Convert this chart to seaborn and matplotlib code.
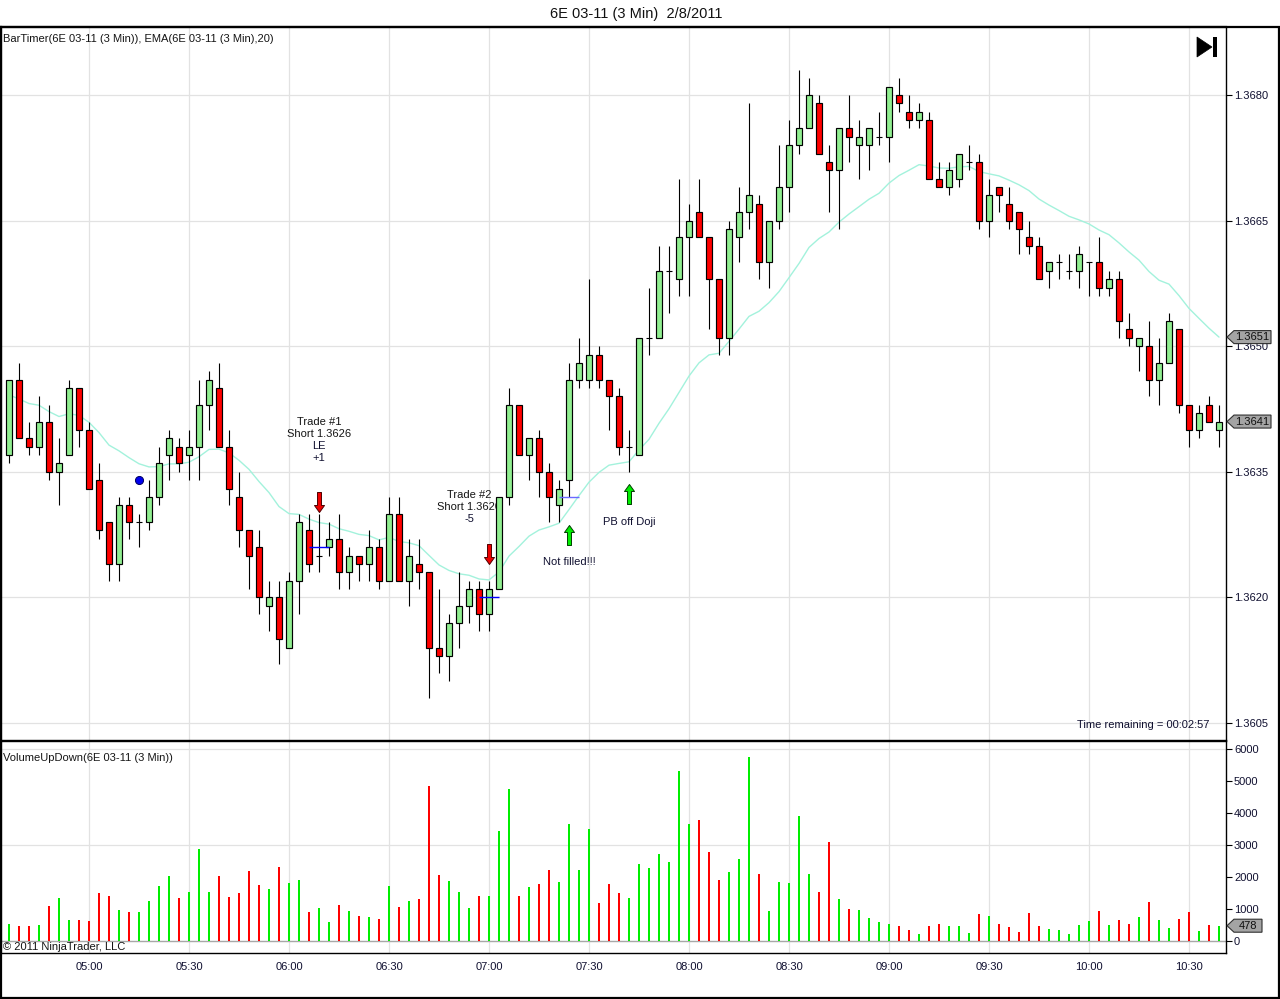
import numpy as np
import pandas as pd
import matplotlib
matplotlib.use("Agg")
import matplotlib.pyplot as plt
import seaborn as sns
from matplotlib.patches import Polygon, Rectangle
from matplotlib.path import Path
from matplotlib.transforms import IdentityTransform

# ---------------- data ----------------
start_time = "2011-02-08 04:36"
bar_minutes = 3

opens = [1.3637, 1.3646, 1.3639, 1.3638, 1.3641, 1.3635, 1.3637, 1.3645, 1.3640, 1.3634,
         1.3629, 1.3624, 1.3631, 1.3629, 1.3629, 1.3632, 1.3637, 1.3638, 1.3637, 1.3638,
         1.3643, 1.3645, 1.3638, 1.3632, 1.3628, 1.3626, 1.3619, 1.3620, 1.3614, 1.3622,
         1.3628, 1.3625, 1.3626, 1.3627, 1.3623, 1.3625, 1.3624, 1.3626, 1.3622, 1.3630,
         1.3622, 1.3624, 1.3623, 1.3614, 1.3613, 1.3617, 1.3619, 1.3621, 1.3618, 1.3621,
         1.3632, 1.3643, 1.3637, 1.3639, 1.3635, 1.3631, 1.3634, 1.3646, 1.3646, 1.3649,
         1.3646, 1.3644, 1.3638, 1.3637, 1.3651, 1.3651, 1.3659, 1.3658, 1.3663, 1.3666,
         1.3663, 1.3658, 1.3651, 1.3663, 1.3666, 1.3667, 1.3660, 1.3665, 1.3669, 1.3674,
         1.3676, 1.3679, 1.3672, 1.3671, 1.3676, 1.3674, 1.3674, 1.3675, 1.3675, 1.3680,
         1.3678, 1.3677, 1.3677, 1.3670, 1.3669, 1.3670, 1.3672, 1.3672, 1.3665, 1.3669,
         1.3667, 1.3666, 1.3663, 1.3662, 1.3659, 1.3660, 1.3659, 1.3659, 1.3660, 1.3660,
         1.3657, 1.3658, 1.3652, 1.3650, 1.3650, 1.3646, 1.3648, 1.3652, 1.3643, 1.3640,
         1.3643, 1.3640]

highs = [1.3646, 1.3648, 1.3641, 1.3644, 1.3643, 1.3639, 1.3646, 1.3645, 1.3641, 1.3636,
         1.3629, 1.3632, 1.3632, 1.3630, 1.3634, 1.3638, 1.3640, 1.3639, 1.3640, 1.3646,
         1.3647, 1.3648, 1.3640, 1.3635, 1.3628, 1.3628, 1.3622, 1.3622, 1.3623, 1.3630,
         1.3630, 1.3630, 1.3629, 1.3630, 1.3626, 1.3625, 1.3628, 1.3627, 1.3632, 1.3632,
         1.3627, 1.3627, 1.3623, 1.3621, 1.3618, 1.3623, 1.3622, 1.3622, 1.3622, 1.3632,
         1.3645, 1.3643, 1.3639, 1.3640, 1.3636, 1.3634, 1.3648, 1.3651, 1.3658, 1.3650,
         1.3646, 1.3645, 1.3640, 1.3651, 1.3657, 1.3662, 1.3662, 1.3670, 1.3667, 1.3670,
         1.3663, 1.3658, 1.3665, 1.3669, 1.3679, 1.3668, 1.3665, 1.3674, 1.3677, 1.3683,
         1.3682, 1.3680, 1.3674, 1.3676, 1.3680, 1.3677, 1.3676, 1.3678, 1.3681, 1.3682,
         1.3680, 1.3679, 1.3678, 1.3672, 1.3672, 1.3673, 1.3674, 1.3673, 1.3670, 1.3669,
         1.3669, 1.3666, 1.3665, 1.3663, 1.3660, 1.3661, 1.3661, 1.3662, 1.3660, 1.3663,
         1.3659, 1.3659, 1.3654, 1.3651, 1.3653, 1.3651, 1.3654, 1.3652, 1.3643, 1.3643,
         1.3644, 1.3643]

lows = [1.3636, 1.3639, 1.3637, 1.3637, 1.3634, 1.3631, 1.3637, 1.3638, 1.3633, 1.3627,
        1.3622, 1.3622, 1.3627, 1.3626, 1.3628, 1.3631, 1.3634, 1.3635, 1.3634, 1.3634,
        1.3640, 1.3638, 1.3631, 1.3626, 1.3621, 1.3618, 1.3616, 1.3612, 1.3614, 1.3618,
        1.3623, 1.3623, 1.3625, 1.3621, 1.3621, 1.3622, 1.3622, 1.3621, 1.3622, 1.3622,
        1.3619, 1.3621, 1.3608, 1.3611, 1.3610, 1.3614, 1.3617, 1.3616, 1.3616, 1.3621,
        1.3631, 1.3637, 1.3634, 1.3632, 1.3629, 1.3629, 1.3632, 1.3645, 1.3645, 1.3645,
        1.3640, 1.3637, 1.3635, 1.3637, 1.3649, 1.3651, 1.3654, 1.3656, 1.3656, 1.3663,
        1.3652, 1.3649, 1.3649, 1.3660, 1.3664, 1.3658, 1.3657, 1.3664, 1.3666, 1.3673,
        1.3676, 1.3673, 1.3666, 1.3664, 1.3672, 1.3670, 1.3671, 1.3674, 1.3672, 1.3678,
        1.3676, 1.3676, 1.3670, 1.3669, 1.3668, 1.3669, 1.3671, 1.3664, 1.3663, 1.3666,
        1.3664, 1.3661, 1.3661, 1.3658, 1.3657, 1.3658, 1.3658, 1.3657, 1.3656, 1.3656,
        1.3656, 1.3651, 1.3650, 1.3647, 1.3644, 1.3643, 1.3648, 1.3642, 1.3638, 1.3639,
        1.3641, 1.3638]

closes = [1.3646, 1.3639, 1.3638, 1.3641, 1.3635, 1.3636, 1.3645, 1.3640, 1.3633, 1.3628,
          1.3624, 1.3631, 1.3629, 1.3629, 1.3632, 1.3636, 1.3639, 1.3636, 1.3638, 1.3643,
          1.3646, 1.3638, 1.3633, 1.3628, 1.3625, 1.3620, 1.3620, 1.3615, 1.3622, 1.3629,
          1.3624, 1.3625, 1.3627, 1.3623, 1.3625, 1.3624, 1.3626, 1.3622, 1.3630, 1.3622,
          1.3625, 1.3623, 1.3614, 1.3613, 1.3617, 1.3619, 1.3621, 1.3618, 1.3621, 1.3632,
          1.3643, 1.3637, 1.3639, 1.3635, 1.3632, 1.3633, 1.3646, 1.3648, 1.3649, 1.3646,
          1.3644, 1.3638, 1.3638, 1.3651, 1.3651, 1.3659, 1.3659, 1.3663, 1.3665, 1.3663,
          1.3658, 1.3651, 1.3664, 1.3666, 1.3668, 1.3660, 1.3665, 1.3669, 1.3674, 1.3676,
          1.3680, 1.3673, 1.3671, 1.3676, 1.3675, 1.3675, 1.3676, 1.3675, 1.3681, 1.3679,
          1.3677, 1.3678, 1.3670, 1.3669, 1.3671, 1.3673, 1.3672, 1.3665, 1.3668, 1.3668,
          1.3665, 1.3664, 1.3662, 1.3658, 1.3660, 1.3660, 1.3659, 1.3661, 1.3660, 1.3657,
          1.3658, 1.3653, 1.3651, 1.3651, 1.3646, 1.3648, 1.3653, 1.3643, 1.3640, 1.3642,
          1.3641, 1.3641]

volumes = [530, 470, 470, 500, 1090, 1340, 660, 660, 630, 1500,
           1410, 970, 910, 910, 1250, 1720, 2030, 1340, 1530, 2880,
           1530, 2030, 1380, 1500, 2190, 1750, 1630, 2310, 1810, 1910,
           910, 1030, 590, 1130, 940, 780, 750, 690, 1720, 1060,
           1250, 1310, 4840, 2060, 1880, 1530, 1030, 1410, 1410, 3440,
           4750, 1410, 1690, 1780, 2220, 1840, 3660, 2220, 3500, 1190,
           1780, 1500, 1340, 2410, 2280, 2720, 2470, 5310, 3660, 3780,
           2780, 1910, 2160, 2560, 5750, 2090, 940, 1840, 1810, 3910,
           2090, 1530, 3090, 1310, 1000, 970, 720, 590, 530, 470,
           340, 220, 470, 530, 470, 470, 250, 840, 780, 530,
           440, 280, 880, 470, 380, 340, 220, 500, 630, 940,
           500, 660, 530, 750, 1220, 660, 410, 690, 910, 310,
           500, 478]

ema_period = 20
ema_seed = 1.3644

price_ticks = [1.3605, 1.3620, 1.3635, 1.3650, 1.3665, 1.3680]
volume_ticks = [0, 1000, 2000, 3000, 4000, 5000, 6000]
volume_grid = [3000, 6000]

# annotations
note_bars = [31, 46, 56, 62]
note_prices = [1.3641, 1.36322, 1.36242, 1.3629]
note_lines = [["Trade #1", "Short 1.3626", "LE", "+1"],
              ["Trade #2", "Short 1.3620", "-5"],
              ["Not filled!!!"],
              ["PB off Doji"]]
arrow_bars = [31, 48, 56, 62]
arrow_prices = [1.36314, 1.36252, 1.36274, 1.36323]
arrow_dirs = ["down", "down", "up", "up"]
entry_start = [30, 47, 55]
entry_end = [32, 49, 57]
entry_price = [1.3626, 1.3620, 1.3632]
entry_colors = ["#0000ff", "#0000ff", "#6a6aff"]
dot_bar = [13]
dot_price = [1.3634]

title = "6E 03-11 (3 Min)  2/8/2011"
price_label = "BarTimer(6E 03-11 (3 Min)), EMA(6E 03-11 (3 Min),20)"
volume_label = "VolumeUpDown(6E 03-11 (3 Min))"
timer_text = "Time remaining = 00:02:57"
copyright_text = "\u00a9 2011 NinjaTrader, LLC"

# ---------------- style ----------------
W, H = 1280, 999
sns.set_style("white")
plt.rcParams["font.family"] = ["Liberation Sans", "DejaVu Sans"]
plt.rcParams["axes.edgecolor"] = "black"

UP = "#90ee90"
DOWN = "#ff0000"
VUP = "#00ee00"
VDOWN = "#ff0000"
GRID = "#e2e2e2"
TXT = "#101030"


def fx(x):
    return x / W


def fy(y):
    return 1 - y / H


o = np.array(opens)
h = np.array(highs)
l = np.array(lows)
c = np.array(closes)
v = np.array(volumes)
n = len(c)
idx = np.arange(n)
up = c >= o

times = pd.date_range(start_time, periods=n, freq=f"{bar_minutes}min")
tick_idx = [i for i, t in enumerate(times) if t.minute % 30 == 0]
tick_lab = [times[i].strftime("%H:%M") for i in tick_idx]

ema = pd.Series([ema_seed] + list(closes)).ewm(span=ema_period, adjust=False).mean().values[1:]

fig = plt.figure(figsize=(W / 100, H / 100), dpi=100)
ax = fig.add_axes([fx(1), fy(740), (1226 - 1) / W, (740 - 27) / H])
axv = fig.add_axes([fx(1), fy(953), (1226 - 1) / W, (953 - 741) / H])

xlim = (-0.8, n - 0.3)
for a in (ax, axv):
    a.set_xlim(*xlim)
    a.set_facecolor("white")
    for s in a.spines.values():
        s.set_color("black")
        s.set_linewidth(1.0)
        s.set_visible(True)

# ---- price panel ----
ax.set_ylim(1.360297, 1.368812)
ax.set_xticks(tick_idx)
ax.set_yticks(price_ticks)
ax.set_yticklabels([f"{p:.4f}" for p in price_ticks])
ax.yaxis.tick_right()
ax.tick_params(axis="x", length=0, labelbottom=False)
ax.tick_params(axis="y", direction="out", length=4.3, width=0.8, pad=1.5,
               labelsize=8, labelcolor=TXT, color="black")
ax.grid(True, color=GRID, lw=0.9)
ax.set_axisbelow(True)
ax.spines["top"].set_linewidth(1.6)
ax.spines["left"].set_linewidth(1.6)

# annotation texts (behind the candles)
for b, p, lines in zip(note_bars, note_prices, note_lines):
    for k, s in enumerate(lines):
        col = "#151515" if k < 2 and len(lines) > 1 else TXT
        ax.annotate(s, xy=(b, p), xytext=(0, -12 * k), textcoords="offset pixels",
                    ha="center", va="center", fontsize=8, color=col, zorder=1)

sns.lineplot(x=idx, y=ema, ax=ax, color="#a3f2dc", lw=1.0, zorder=1.5)

ax.vlines(idx, l, h, color="black", lw=0.8, zorder=2)
body_lo = np.minimum(o, c)
body_h = np.abs(c - o)
nz = body_h > 1e-9
ax.bar(idx[nz], body_h[nz], bottom=body_lo[nz], width=0.56,
       color=np.where(up[nz], UP, DOWN), edgecolor="black", linewidth=0.85, zorder=3)
dj = ~nz
ax.hlines(c[dj], idx[dj] - 0.3, idx[dj] + 0.3, color="black", lw=0.8, zorder=3)

for s0, s1, p, col in zip(entry_start, entry_end, entry_price, entry_colors):
    ax.hlines(p, s0, s1, color=col, lw=1.0, zorder=4)

ax.scatter(dot_bar, dot_price, s=34, c="#0000ee", edgecolors="#000060", linewidths=0.7, zorder=5)

down_path = Path([(-0.2, 1), (0.2, 1), (0.2, -0.3), (0.5, -0.3), (0, -1),
                  (-0.5, -0.3), (-0.2, -0.3), (-0.2, 1)],
                 [Path.MOVETO] + [Path.LINETO] * 6 + [Path.CLOSEPOLY])
up_path = Path([(x, -y) for x, y in down_path.vertices], down_path.codes)
for b, p, d in zip(arrow_bars, arrow_prices, arrow_dirs):
    if d == "down":
        ax.plot([b], [p], marker=down_path, markersize=14.4, mfc="#ee0000",
                mec="#500000", mew=0.7, ls="none", zorder=6)
    else:
        ax.plot([b], [p], marker=up_path, markersize=14.4, mfc="#00ee00",
                mec="#004000", mew=0.7, ls="none", zorder=6)
ax.set_xlabel("")
ax.set_ylabel("")

# ---- volume panel ----
axv.set_ylim(-375, 6250)
axv.bar(idx, v, width=0.22, color=np.where(up, VUP, VDOWN), linewidth=0, zorder=3)
axv.set_yticks(volume_ticks)
axv.set_yticklabels([str(t) for t in volume_ticks])
axv.yaxis.tick_right()
axv.tick_params(axis="y", direction="out", length=4.3, width=0.8, pad=1.5,
                labelsize=8, labelcolor=TXT, color="black")
axv.set_xticks(tick_idx)
axv.set_xticklabels(tick_lab)
axv.tick_params(axis="x", direction="out", length=4.3, width=0.8, pad=2,
                labelsize=8, labelcolor=TXT, color="black")
axv.grid(True, axis="x", color=GRID, lw=0.9)
for g in volume_grid:
    axv.axhline(g, color=GRID, lw=0.9, zorder=0.5)
axv.axhline(0, color="#a8a8a8", lw=1.0, zorder=1)
axv.set_axisbelow(True)
axv.spines["left"].set_linewidth(1.6)
axv.spines["top"].set_linewidth(1.0)

# ---- frame and texts ----
fig.add_artist(Rectangle((fx(1), fy(998)), 1278 / W, (998 - 27) / H, fill=False,
                         ec="black", lw=1.6, transform=fig.transFigure, zorder=20))
fig.text(fx(636), fy(14), title, ha="center", va="center", fontsize=10.5, color="#111111")
fig.text(fx(3), fy(39), price_label, ha="left", va="center", fontsize=8, color="#151515")
fig.text(fx(1209), fy(725), timer_text, ha="right", va="center", fontsize=8, color=TXT)
fig.text(fx(3), fy(758), volume_label, ha="left", va="center", fontsize=8, color="#151515")
fig.text(fx(3), fy(947), copyright_text, ha="left", va="center", fontsize=8, color="#151515")

# "go to end" icon
fig.add_artist(Polygon([(fx(1197), fy(37)), (fx(1197), fy(57)), (fx(1212), fy(47))],
                       closed=True, fc="black", ec="black", lw=0.5, transform=fig.transFigure))
fig.add_artist(Rectangle((fx(1213), fy(57)), 4 / W, 20 / H, fc="black", ec="none",
                         transform=fig.transFigure))


def tag(axis, value, label, width):
    y = axis.transData.transform((0, value))[1]
    x0 = axis.transAxes.transform((1, 0))[0]
    hh = 6.5
    verts = [(x0 + 1, y), (x0 + 8, y + hh), (x0 + width, y + hh),
             (x0 + width, y - hh), (x0 + 8, y - hh)]
    fig.add_artist(Polygon(verts, closed=True, transform=IdentityTransform(),
                           fc="#a4a4a4", ec="#303030", lw=0.8, zorder=15))
    fig.text(x0 + 8 + (width - 8) / 2, y, label, transform=IdentityTransform(),
             ha="center", va="center", fontsize=8, color="#101010", zorder=16)


tag(ax, ema[-1], f"{ema[-1]:.4f}", 45)
tag(ax, closes[-1], f"{closes[-1]:.4f}", 45)
tag(axv, volumes[-1], str(volumes[-1]), 36)

fig.savefig("out.png", dpi=100, facecolor="white")
